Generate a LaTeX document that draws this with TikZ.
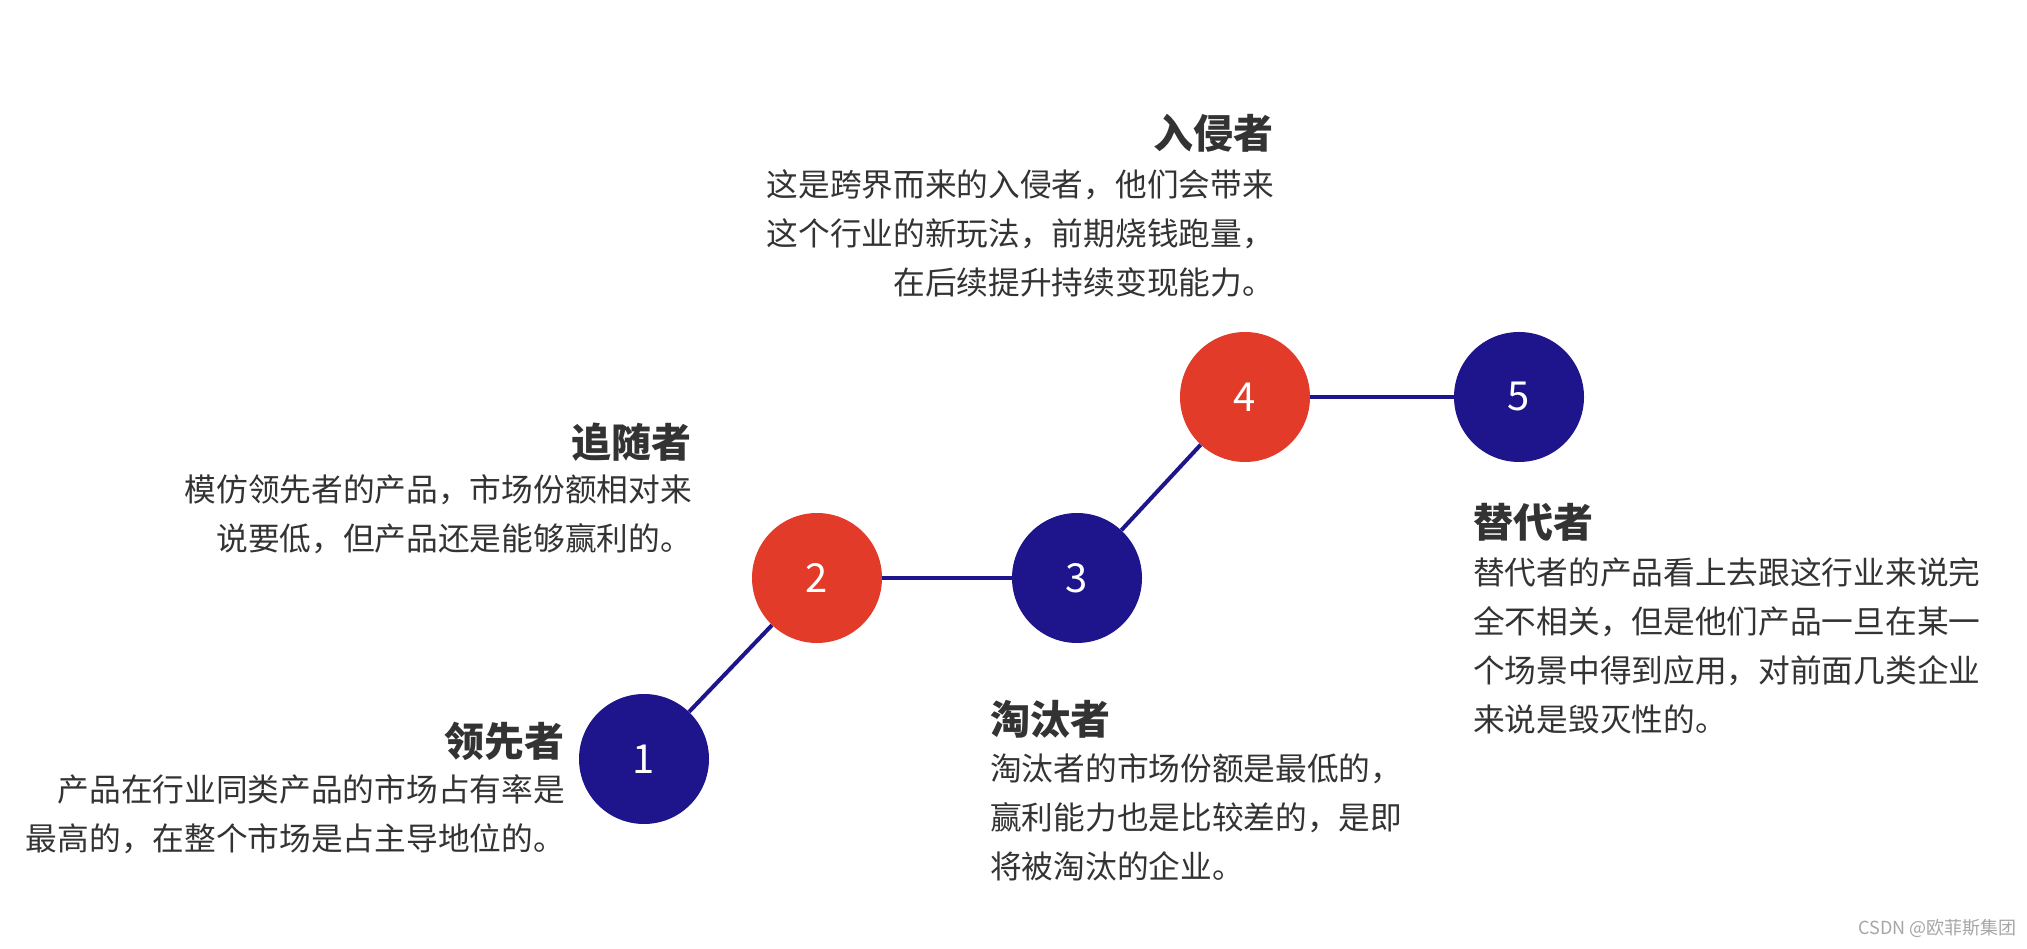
\documentclass[tikz,border=0pt]{standalone}
\usepackage{fontspec}
\newfontfamily\cjk{Noto Sans CJK SC}
\definecolor{navy}{HTML}{1E148C}
\definecolor{red}{HTML}{E23B2A}
\definecolor{txt}{HTML}{333333}
\begin{document}
\begin{tikzpicture}[x=1pt,y=1pt,
  circ/.style={circle,minimum size=130pt,inner sep=0,text=white,font=\cjk\fontsize{40}{40}\selectfont},
  link/.style={navy,line width=4pt},
  ttl/.style={inner sep=0,text=txt,font=\cjk\bfseries\fontsize{40}{40}\selectfont},
  body/.style={inner sep=0,text=txt,font=\cjk\fontsize{31.7}{49}\selectfont}]
\useasboundingbox (0,0) rectangle (2027,948);
\node[circ,fill=navy] (c1) at (644,189) {1};
\node[circ,fill=red] (c2) at (817,370) {2};
\node[circ,fill=navy] (c3) at (1077,370) {3};
\node[circ,fill=red] (c4) at (1245,551) {4};
\node[circ,fill=navy] (c5) at (1519,551) {5};
\draw[link] (c1) -- (c2);
\draw[link] (c2) -- (c3);
\draw[link] (c3) -- (c4);
\draw[link] (c4) -- (c5);
\node[ttl,anchor=east] (t1) at (565,207) {领先者};
\node[body,anchor=north east,align=right] (b1) at (565,174) {产品在行业同类产品的市场占有率是\\最高的，在整个市场是占主导地位的。};
\node[ttl,anchor=east] (t2) at (692,506) {追随者};
\node[body,anchor=north east,align=right] (b2) at (692,474) {模仿领先者的产品，市场份额相对来\\说要低，但产品还是能够赢利的。};
\node[ttl,anchor=east] (t4) at (1274,815) {入侵者};
\node[body,anchor=north east,align=right] (b4) at (1274,779) {这是跨界而来的入侵者，他们会带来\\这个行业的新玩法，前期烧钱跑量，\\在后续提升持续变现能力。};
\node[ttl,anchor=west] (t3) at (990,229) {淘汰者};
\node[body,anchor=north west,align=left] (b3) at (990,195) {淘汰者的市场份额是最低的，\\赢利能力也是比较差的，是即\\将被淘汰的企业。};
\node[ttl,anchor=west] (t5) at (1473,426) {替代者};
\node[body,anchor=north west,align=left] (b5) at (1473,391) {替代者的产品看上去跟这行业来说完\\全不相关，但是他们产品一旦在某一\\个场景中得到应用，对前面几类企业\\来说是毁灭性的。};
\node[anchor=east,inner sep=0,text=gray!70,font=\cjk\fontsize{18}{18}\selectfont] (wm) at (2017,20) {CSDN @欧菲斯集团};
\end{tikzpicture}
\end{document}
